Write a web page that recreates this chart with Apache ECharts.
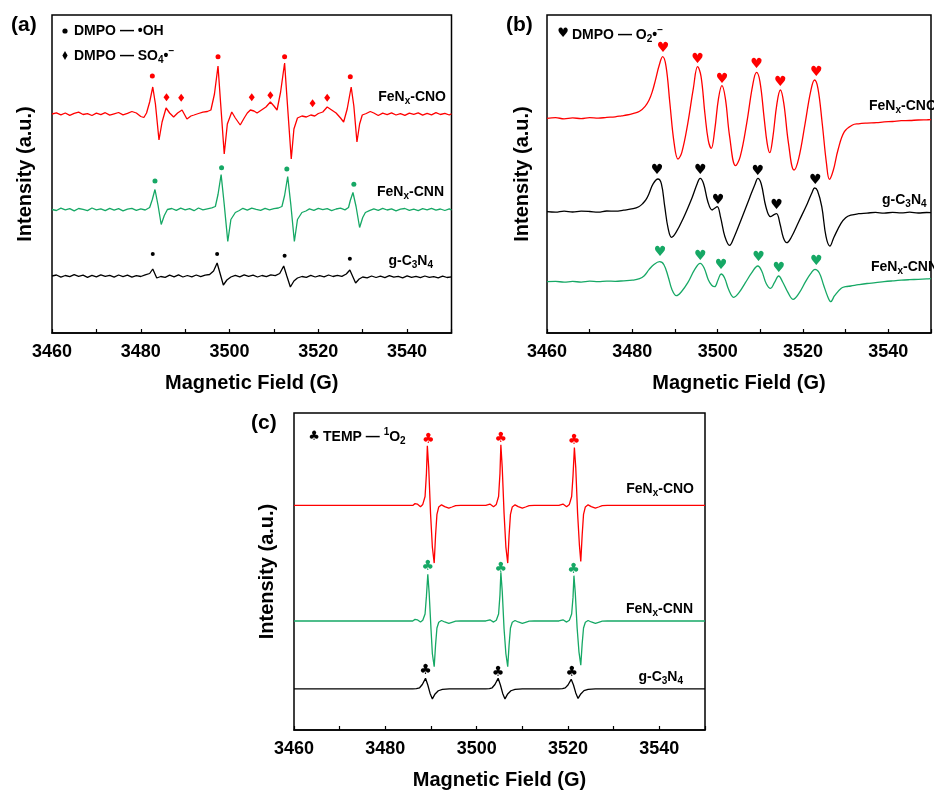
<!DOCTYPE html>
<html>
<head>
<meta charset="utf-8">
<script src="https://cdn.jsdelivr.net/npm/echarts/dist/echarts.min.js"></script>
<style>
  html, body { margin: 0; padding: 0; background: #fff; }
  #chart { width: 934px; height: 791px; }
</style>
</head>
<body>
<div id="chart"></div>
<script>
// magnetic field range (G) and labelled ticks, shared by the three panels
const fieldRange = [3460, 3550];
const tickLabels = [3460, 3480, 3500, 3520, 3540];

// ---- panel (a): DMPO-OH / DMPO-SO4 ----  [field, intensity relative to trace baseline]
const cnoA = [[3460,0],[3461,1.2],[3462,-0.8],[3463,1],[3464,-1.3],[3465,0.6],[3466,1.8],[3467,-0.5],[3468,0.4],[3469,-1.5],[3470,0.9],[3471,-0.6],[3472,1.3],[3473,-1.1],[3474,0.2],[3475,1.5],[3476,-0.9],[3477,0.6],[3478,2.5],[3479,1],[3480,-2.5],[3480.7,-3.5],[3481.3,1],[3482,12],[3482.7,27],[3483.3,10],[3484.1,-26],[3484.8,-8],[3485.7,6],[3486.5,1],[3487.4,-3],[3488.3,1],[3489.3,4],[3490.4,-5],[3491.3,-2],[3492,-1],[3493,0.5],[3494,1.8],[3495,2.5],[3495.8,4],[3496.6,20],[3497.4,48],[3498,10],[3498.8,-40],[3499.5,-10],[3500.5,2],[3501.3,-4],[3502.4,-11],[3503.3,-4],[3504,1],[3504.7,4],[3505.5,3],[3506.2,1],[3507.2,4],[3508.2,7],[3509.2,12],[3510,8],[3510.7,4],[3511.5,22],[3512.4,51],[3513,12],[3513.9,-45],[3514.5,-15],[3515.3,-4],[3516.3,-2],[3517.3,-3],[3518.3,-1],[3519.2,-2],[3520,0.5],[3521,2],[3522,7],[3523,4],[3524,1],[3525,-4],[3525.7,-8],[3526.5,5],[3527.4,27],[3528,8],[3528.7,-28],[3529.3,-10],[3529.9,-1],[3530.8,0.5],[3531.7,2.5],[3532.5,1],[3533.5,-1.5],[3534.5,0.8],[3535.5,-0.6],[3536.5,1.2],[3537.5,-1],[3538.5,0.4],[3539.5,-1.4],[3540.5,0.9],[3541.5,-0.3],[3542.5,1.1],[3543.5,-1.2],[3544.5,0.6],[3545.5,-0.8],[3546.5,1.3],[3547.5,-0.5],[3548.5,0.7],[3549.5,-1],[3550,0.2]];
const cnnA = [[3460,0],[3461,-1],[3462,1.3],[3463,-0.4],[3464,0.8],[3465,-1.4],[3466,1],[3467,0.2],[3468,-1.1],[3469,1.5],[3470,-0.3],[3471,0.7],[3472,-1.2],[3473,1.1],[3474,-0.6],[3475,0.9],[3476,-1.3],[3477,0.4],[3478,1.2],[3479,-0.8],[3480,0.6],[3481,-0.5],[3482,2],[3482.6,10],[3483.2,20],[3483.9,4],[3484.6,-15],[3485.3,-6],[3486,0],[3487,1],[3488,-0.8],[3489,1.3],[3490,-0.4],[3491,0.9],[3492,-1.2],[3493,1.5],[3494,-0.3],[3495,0.7],[3496,1.6],[3496.8,3],[3497.4,15],[3498.1,35],[3498.8,5],[3499.6,-32],[3500.3,-10],[3501.3,-3],[3502.2,-1],[3503,1.2],[3504,-0.6],[3505,1.4],[3506,0.2],[3507,-0.9],[3508,1.1],[3509,-0.3],[3510,0.8],[3511,1.5],[3511.8,3],[3512.4,14],[3513.1,33],[3513.8,5],[3514.6,-32],[3515.3,-10],[3516.3,-3],[3517.2,-1.5],[3518,0.6],[3519,-0.9],[3520,1.2],[3521,-0.2],[3522,0.9],[3523,-1.1],[3524,0.5],[3525,1.3],[3526,-0.4],[3526.8,2],[3527.2,9],[3527.8,17],[3528.5,3],[3529.3,-18],[3530,-8],[3530.6,-3],[3531.5,-1.2],[3532.5,0.6],[3533.5,-0.8],[3534.5,1.1],[3535.5,-0.5],[3536.5,0.7],[3537.5,-1.3],[3538.5,0.4],[3539.5,1],[3540.5,-0.9],[3541.5,0.3],[3542.5,-1.1],[3543.5,0.8],[3544.5,-0.4],[3545.5,1.2],[3546.5,-0.7],[3547.5,0.5],[3548.5,-1],[3549.5,0.6],[3550,-0.5]];
const gcnA = [[3460,0],[3461,1],[3462,-1.2],[3463,0.5],[3464,-0.7],[3465,1.4],[3466,-0.3],[3467,0.8],[3468,-1.3],[3469,0.6],[3470,-0.9],[3471,1.2],[3472,-0.4],[3473,0.7],[3474,-1.1],[3475,1],[3476,-0.6],[3477,0.9],[3478,-1.2],[3479,0.4],[3480,-0.5],[3481,1.1],[3482,2.5],[3482.7,7],[3483.6,-2],[3484.5,-0.5],[3485.5,-1.3],[3486.5,0.8],[3487.5,-0.9],[3488.5,1.2],[3489.5,-1],[3490.5,0.5],[3491.5,-0.8],[3492.5,1],[3493.5,-0.6],[3494.5,0.9],[3495.5,1.5],[3496.4,5],[3497.2,13],[3497.9,2],[3498.6,-9],[3499.4,-4],[3500.3,-1],[3501.3,0.6],[3502.3,-0.9],[3503.3,1.1],[3504.3,-0.4],[3505.3,0.8],[3506.3,-1],[3507.3,0.5],[3508.3,-0.7],[3509.3,1.2],[3510.3,0.4],[3511.3,2.5],[3512.2,10],[3512.9,0],[3513.7,-11],[3514.5,-5],[3515.3,-2],[3516.3,-0.5],[3517.3,-1.3],[3518.3,0.6],[3519.3,-1],[3520.3,0.3],[3521.3,-0.8],[3522.3,1],[3523.3,-0.5],[3524.3,0.7],[3525.3,-0.3],[3526.3,2],[3527.1,6],[3527.8,-1],[3528.4,-7],[3529.2,-3],[3530,-1],[3531,-1.8],[3532,0],[3533,-1.5],[3534,-0.2],[3535,-1.6],[3536,0.3],[3537,-1.2],[3538,-0.4],[3539,-1.8],[3540,0.1],[3541,-1.3],[3542,-0.3],[3543,-1.7],[3544,0],[3545,-1.4],[3546,-0.6],[3547,-1.8],[3548,-0.2],[3549,-1.5],[3550,-0.8]];
const baseA = [219, 123.5, 57];   // CNO, CNN, g-C3N4
const dotsCnoA = [[3482.6,257],[3497.4,276.3],[3512.4,276.3],[3527.2,256.3]];
const diamondsCnoA = [[3485.8,235.7],[3489.1,235.3],[3505.0,235.7],[3509.2,237.7],[3518.7,229.7],[3522.0,235.3]];
const dotsCnnA = [[3483.2,152],[3498.2,165.3],[3512.9,164],[3528.0,148.7]];
const dotsGcnA = [[3482.7,79],[3497.2,79],[3512.4,77.3],[3527.1,74.3]];

// ---- panel (b): DMPO-O2 ----
const cnoB = [[3460,0],[3462,0.6],[3464,-0.5],[3466,0.4],[3468,-0.3],[3470,0.7],[3472,0.2],[3474,0.9],[3476,1.5],[3477.5,2.5],[3478.7,3.3],[3480.3,5],[3481.7,7],[3483,12],[3483.9,18],[3484.7,27],[3485.4,38],[3486.3,53],[3487.1,61.6],[3487.9,52],[3488.8,15],[3489.8,-25],[3490.7,-40.7],[3491.6,-34],[3493,-5],[3494.3,30],[3495.3,51.6],[3496.1,42],[3497,5],[3497.8,-22],[3498.5,-30],[3499.3,-12],[3500.2,20],[3501,32.6],[3501.8,20],[3502.8,-18],[3504.2,-47.4],[3505.3,-38],[3506.8,-5],[3508.2,33],[3509.1,46],[3509.9,37],[3510.9,0],[3511.6,-25],[3512.2,-34.4],[3512.9,-20],[3513.9,15],[3514.7,28.3],[3515.5,15],[3516.6,-25],[3517.9,-51.7],[3519,-40],[3520.5,-5],[3521.8,27],[3522.7,38.3],[3523.5,30],[3524.5,-5],[3525.5,-45],[3526.2,-61],[3527.1,-52],[3528.2,-31.7],[3529.7,-13.4],[3531.6,-6.7],[3533,-5.5],[3535,-4.8],[3537.2,-4.4],[3539,-3.6],[3541,-3.2],[3543,-2.4],[3545,-2.2],[3547,-1.7],[3549,-1.5],[3550,-1.4]];
const gcnB = [[3460,0],[3462,-0.5],[3464,0.6],[3466,-0.3],[3468,0.5],[3470,0.2],[3472,-0.4],[3474,0.7],[3476,0.5],[3478,1.5],[3480.2,3],[3481.5,5],[3482.4,8],[3483.2,12],[3483.9,18],[3484.9,28],[3486,32.7],[3486.8,28],[3487.6,5],[3488.4,-17],[3489.2,-25.6],[3490.2,-21],[3492,-6],[3494,14],[3495.2,28],[3495.9,33.4],[3496.7,28],[3497.7,10],[3498.7,1.7],[3499.3,3.5],[3499.9,5],[3500.7,-6],[3501.7,-25],[3502.8,-33.7],[3503.8,-26],[3505.5,-8],[3507.5,14],[3508.8,28],[3509.4,33.4],[3510.2,28],[3511.3,5],[3512.4,-5],[3513.2,-3],[3513.8,-2],[3514.6,-12],[3515.4,-26],[3516.2,-31],[3517.2,-26],[3519,-10],[3521,8],[3522.2,20],[3522.7,23.7],[3523.4,21],[3524.4,5],[3525.4,-25],[3526.3,-34.4],[3527.2,-26],[3528.9,-11.7],[3530,-6],[3531.2,-3.5],[3533,-2],[3535,-1.4],[3537,-0.7],[3539,-1.5],[3541,-0.6],[3543,-1.2],[3545,-0.5],[3547,-1.3],[3549,-0.8],[3550,-1]];
const cnnB = [[3460,0],[3462,0.4],[3464,-0.5],[3466,0.3],[3468,-0.4],[3470,0.5],[3472,0.1],[3474,0.6],[3476,0.4],[3478,0.9],[3480,1.5],[3481.7,3],[3482.8,6],[3483.9,12],[3485,17],[3486.4,20],[3487.4,17],[3488.4,5],[3489.3,-8],[3490.3,-14],[3491.5,-10],[3493,-1],[3494.6,12],[3495.9,18.4],[3496.8,14],[3497.8,2],[3498.6,-3.5],[3499.3,-5],[3500.1,2],[3500.8,7.7],[3501.6,4],[3502.6,-8],[3503.8,-15.6],[3505,-11],[3506.5,-1],[3508,9],[3509.4,15.7],[3510.3,11],[3511.4,-2],[3512.4,-6.6],[3513.3,-1],[3514.3,5.7],[3515.2,0],[3516.5,-11],[3517.7,-17.6],[3519,-12],[3520.6,0],[3521.8,8],[3522.8,12.4],[3523.8,9],[3524.8,-3],[3525.8,-15],[3526.5,-20],[3527.4,-14],[3528.9,-6.7],[3530,-5],[3531.2,-4.3],[3533,-3],[3535,-1.8],[3537,-1],[3539,0],[3541,0.8],[3543,1.5],[3545,2],[3547,2.4],[3549,2.8],[3550,3]];
const baseB = [214.7, 121.3, 51.3];   // CNO, g-C3N4, CNN
const heartsCnoB = [[3487.2,284.7],[3495.3,273.7],[3501.0,254],[3509.1,268.7],[3514.7,250.7],[3523.1,260.7]];
const heartsGcnB = [[3485.8,162.3],[3495.9,162.3],[3500.1,133],[3509.4,161.3],[3513.8,127.3],[3522.9,153]];
const heartsCnnB = [[3486.5,80.3],[3495.9,77],[3500.8,67.3],[3509.6,75.3],[3514.3,64.7],[3523.1,71.3]];

// ---- panel (c): TEMP-1O2 ----
const cnoC = [[3460,0],[3486,0],[3486.5,1.8],[3487,1.4],[3487.7,-1.3],[3488.2,1],[3488.7,9],[3489.0,32],[3489.2,60],[3489.5,38],[3489.9,-8],[3490.3,-42],[3490.7,-58],[3491.0,-30],[3491.3,-9],[3491.7,-1.5],[3492.3,0.6],[3493.0,-1.2],[3493.9,-2.8],[3494.6,-1.6],[3495.4,-0.2],[3496.5,0],[3502,0],[3502.4,1.8],[3502.9,1.4],[3503.7,-1.3],[3504.3,1],[3504.8,9],[3505.1,32],[3505.3,61],[3505.6,38],[3506.0,-8],[3506.4,-42],[3506.8,-58],[3507.1,-30],[3507.4,-9],[3507.8,-1.5],[3508.4,0.6],[3509.1,-1.2],[3510.0,-2.8],[3510.7,-1.6],[3511.5,-0.2],[3512.6,0],[3518,0],[3518.4,1.8],[3518.9,1.4],[3519.7,-1.3],[3520.3,1],[3520.8,9],[3521.1,30],[3521.4,58.3],[3521.7,38],[3522.1,-8],[3522.5,-40],[3522.8,-56.3],[3523.1,-30],[3523.4,-9],[3523.8,-1.5],[3524.4,0.6],[3525.1,-1.2],[3526.0,-2.8],[3526.7,-1.6],[3527.5,-0.2],[3528.6,0],[3550,0]];
const cnnC = [[3460,0],[3486,0],[3486.5,1.6],[3487,1.2],[3487.7,-1.1],[3488.2,0.8],[3488.7,7],[3489.0,25],[3489.3,47],[3489.6,28],[3490.0,-8],[3490.3,-33],[3490.7,-46],[3491.0,-24],[3491.3,-7],[3491.7,-1.2],[3492.3,0.5],[3493.0,-1],[3493.9,-2.3],[3494.6,-1.3],[3495.4,-0.2],[3496.5,0],[3502,0],[3502.4,1.6],[3502.9,1.2],[3503.7,-1.1],[3504.3,0.8],[3504.8,7],[3505.1,26],[3505.3,49],[3505.6,30],[3506.0,-8],[3506.4,-33],[3506.8,-46],[3507.1,-24],[3507.4,-7],[3507.8,-1.2],[3508.4,0.5],[3509.1,-1],[3510.0,-2.3],[3510.7,-1.3],[3511.5,-0.2],[3512.6,0],[3518,0],[3518.4,1.6],[3518.9,1.2],[3519.7,-1.1],[3520.3,0.8],[3520.8,7],[3521.1,24],[3521.3,45.6],[3521.6,28],[3522.0,-7],[3522.4,-31],[3522.8,-44.4],[3523.1,-23],[3523.4,-7],[3523.8,-1.2],[3524.4,0.5],[3525.1,-1],[3526.0,-2.3],[3526.7,-1.3],[3527.5,-0.2],[3528.6,0],[3550,0]];
const gcnC = [[3460,0],[3486,0],[3486.8,0.4],[3487.5,1.2],[3488.1,4.5],[3488.8,10.7],[3489.3,4],[3489.8,-4.5],[3490.3,-10],[3490.9,-5],[3491.6,-1.8],[3492.5,-0.5],[3494,0],[3502,0],[3502.8,0.4],[3503.4,1.2],[3504.0,4.5],[3504.7,10.7],[3505.2,4],[3505.7,-4.5],[3506.2,-10],[3506.8,-5],[3507.5,-1.8],[3508.4,-0.5],[3510,0],[3518,0],[3518.8,0.4],[3519.4,1.1],[3520.0,4],[3520.7,9.7],[3521.2,4],[3521.7,-4],[3522.2,-9.5],[3522.8,-5],[3523.5,-1.7],[3524.4,-0.5],[3526,0],[3550,0]];
const baseC = [226, 109.7, 41.3];   // CNO, CNN, g-C3N4
const clubsCnoC = [[3489.4,292],[3505.3,293],[3521.3,291.3]];
const clubsCnnC = [[3489.3,164.7],[3505.3,163],[3521.2,162]];
const clubsGcnC = [[3488.8,60.3],[3504.7,58],[3520.8,58]];

const RED = '#ff0000', GREEN = '#16a865', BLACK = '#000000';
const FONT = '"Liberation Sans", Arial, sans-serif';

const chart = echarts.init(document.getElementById('chart'));

function shift(points, base) {
  return points.map(p => [p[0], p[1] + base]);
}

function line(idx, points, base, color, smooth) {
  return {
    type: 'line', xAxisIndex: idx, yAxisIndex: idx,
    data: shift(points, base), showSymbol: false, smooth: smooth || false,
    lineStyle: { color: color, width: 1.3 }, silent: true, z: 3
  };
}

function marks(idx, points, color, symbol, size) {
  return {
    type: 'scatter', xAxisIndex: idx, yAxisIndex: idx, data: points,
    symbol: symbol, symbolSize: size, itemStyle: { color: color, opacity: 1 }, z: 4, silent: true
  };
}

function glyphs(idx, points, color, glyph, fontSize) {
  return {
    type: 'scatter', xAxisIndex: idx, yAxisIndex: idx, data: points,
    symbol: 'circle', symbolSize: 1, itemStyle: { color: 'rgba(0,0,0,0)', opacity: 1 },
    label: { show: true, position: 'inside', formatter: glyph, color: color, opacity: 1,
      fontSize: fontSize, fontFamily: 'DejaVu Sans' },
    z: 4, silent: true
  };
}

function xAxis(idx) {
  return {
    type: 'value', gridIndex: idx, min: fieldRange[0], max: fieldRange[1], interval: 10,
    axisLine: { lineStyle: { color: '#000', width: 1.5 } },
    axisTick: { inside: true, length: 4, lineStyle: { color: '#000', width: 1.2 } },
    axisLabel: {
      margin: 10, color: '#000', fontSize: 18, fontWeight: 'bold', fontFamily: FONT,
      formatter: v => tickLabels.indexOf(v) >= 0 ? String(v) : ''
    },
    splitLine: { show: false },
    name: 'Magnetic Field (G)', nameLocation: 'middle', nameGap: 40,
    nameTextStyle: { color: '#000', fontSize: 20, fontWeight: 'bold', fontFamily: FONT }
  };
}

function yAxis(idx, max, gap) {
  return {
    type: 'value', gridIndex: idx, min: 0, max: max,
    axisLine: { show: false }, axisTick: { show: false }, axisLabel: { show: false },
    splitLine: { show: false },
    name: 'Intensity (a.u.)', nameLocation: 'middle', nameGap: gap,
    nameTextStyle: { color: '#000', fontSize: 20, fontWeight: 'bold', fontFamily: FONT }
  };
}

const rich = {
  n: { font: 'bold 14px ' + FONT, fill: '#000', lineHeight: 18 },
  s: { font: 'bold 10px ' + FONT, fill: '#000', lineHeight: 12, padding: [9, 0, 0, 0] },
  p: { font: 'bold 10px ' + FONT, fill: '#000', lineHeight: 12, padding: [0, 0, 9, 0] }
};

function label(x, y, text, align) {
  return {
    type: 'text', x: x, y: y, silent: true, z: 10,
    style: { text: text, rich: rich, align: align, verticalAlign: 'middle',
      font: 'bold 14px ' + FONT, fill: '#000' }
  };
}

function panelTag(x, y, text) {
  return {
    type: 'text', x: x, y: y, silent: true, z: 10,
    style: { text: text, align: 'left', verticalAlign: 'middle',
      font: 'bold 21px ' + FONT, fill: '#000' }
  };
}

function glyphText(x, y, text, size) {
  return {
    type: 'text', x: x, y: y, silent: true, z: 10,
    style: { text: text, align: 'center', verticalAlign: 'middle',
      font: size + 'px "DejaVu Sans"', fill: '#000' }
  };
}

const gridStyle = { show: true, borderColor: '#000', borderWidth: 1.5, backgroundColor: 'transparent' };

chart.setOption({
  animation: false,
  backgroundColor: '#fff',
  grid: [
    Object.assign({ left: 52, top: 15, width: 399.5, height: 318 }, gridStyle),
    Object.assign({ left: 547, top: 15, width: 400, height: 318 }, gridStyle),
    Object.assign({ left: 294, top: 413, width: 411, height: 319 }, gridStyle)
  ],
  xAxis: [xAxis(0), xAxis(1), xAxis(2)],
  yAxis: [yAxis(0, 318, 17), yAxis(1, 318, 15), yAxis(2, 319, 17)],
  series: [
    line(0, cnoA, baseA[0], RED),
    line(0, cnnA, baseA[1], GREEN),
    line(0, gcnA, baseA[2], BLACK),
    marks(0, dotsCnoA, RED, 'circle', 5),
    marks(0, diamondsCnoA, RED, 'diamond', [6, 8]),
    marks(0, dotsCnnA, GREEN, 'circle', 5),
    marks(0, dotsGcnA, BLACK, 'circle', 4),

    line(1, cnoB, baseB[0], RED, 0.4),
    line(1, gcnB, baseB[1], BLACK, 0.4),
    line(1, cnnB, baseB[2], GREEN, 0.4),
    glyphs(1, heartsCnoB, RED, '♥', 14),
    glyphs(1, heartsGcnB, BLACK, '♥', 14),
    glyphs(1, heartsCnnB, GREEN, '♥', 14),

    line(2, cnoC, baseC[0], RED),
    line(2, cnnC, baseC[1], GREEN),
    line(2, gcnC, baseC[2], BLACK),
    glyphs(2, clubsCnoC, RED, '♣', 14),
    glyphs(2, clubsCnnC, GREEN, '♣', 14),
    glyphs(2, clubsGcnC, BLACK, '♣', 14)
  ],
  graphic: [
    panelTag(11, 25, '(a)'),
    panelTag(506, 25, '(b)'),
    panelTag(251, 423, '(c)'),

    { type: 'circle', shape: { cx: 65, cy: 31, r: 2.6 }, style: { fill: '#000' }, silent: true },
    label(74, 31, '{n|DMPO — •OH}', 'left'),
    { type: 'polygon', shape: { points: [[65, 51], [67.6, 55.5], [65, 60], [62.4, 55.5]] }, style: { fill: '#000' }, silent: true },
    label(74, 56, '{n|DMPO — SO}{s|4}{n|•}{p|−}', 'left'),
    label(446, 97, '{n|FeN}{s|x}{n|-CNO}', 'right'),
    label(444, 192, '{n|FeN}{s|x}{n|-CNN}', 'right'),
    label(433, 261, '{n|g-C}{s|3}{n|N}{s|4}', 'right'),

    glyphText(563, 34, '♥', 13),
    label(572, 35, '{n|DMPO — O}{s|2}{n|•}{p|−}', 'left'),
    label(869, 106, '{n|FeN}{s|x}{n|-CNO}', 'left'),
    label(882, 200, '{n|g-C}{s|3}{n|N}{s|4}', 'left'),
    label(871, 267, '{n|FeN}{s|x}{n|-CNN}', 'left'),

    glyphText(314, 437, '♣', 13),
    label(323, 437, '{n|TEMP — }{p|1}{n|O}{s|2}', 'left'),
    label(694, 489, '{n|FeN}{s|x}{n|-CNO}', 'right'),
    label(693, 609, '{n|FeN}{s|x}{n|-CNN}', 'right'),
    label(683, 677, '{n|g-C}{s|3}{n|N}{s|4}', 'right')
  ]
});
</script>
</body>
</html>
